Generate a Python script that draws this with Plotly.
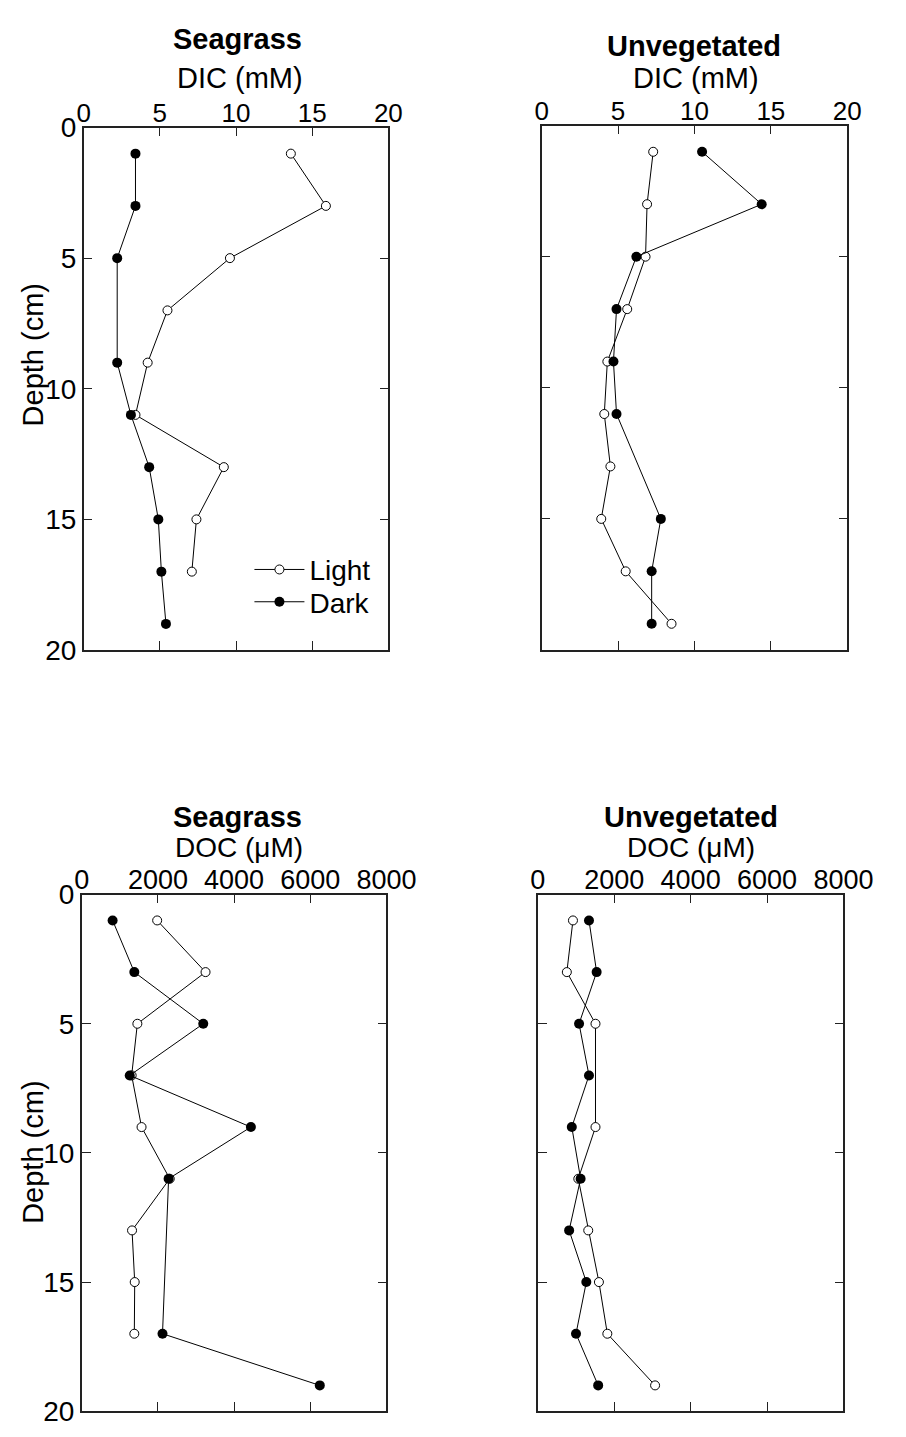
import plotly.graph_objects as go

# Porewater profiles: depth (cm) below sediment surface
depth_sg_dic_light = [1, 3, 5, 7, 9, 11, 13, 15, 17]
dic_sg_light = [13.6, 15.9, 9.6, 5.5, 4.2, 3.4, 9.2, 7.4, 7.1]
depth_sg_dic_dark = [1, 3, 5, 9, 11, 13, 15, 17, 19]
dic_sg_dark = [3.4, 3.4, 2.2, 2.2, 3.1, 4.3, 4.9, 5.1, 5.4]

depth_uv_dic_light = [1, 3, 5, 7, 9, 11, 13, 15, 17, 19]
dic_uv_light = [7.3, 6.9, 6.8, 5.6, 4.3, 4.1, 4.5, 3.9, 5.5, 8.5]
depth_uv_dic_dark = [1, 3, 5, 7, 9, 11, 15, 17, 19]
dic_uv_dark = [10.5, 14.4, 6.2, 4.9, 4.7, 4.9, 7.8, 7.2, 7.2]

depth_sg_doc_light = [1, 3, 5, 7, 9, 11, 13, 15, 17]
doc_sg_light = [1980, 3250, 1460, 1310, 1570, 2310, 1320, 1390, 1380]
depth_sg_doc_dark = [1, 3, 5, 7, 9, 11, 17, 19]
doc_sg_dark = [810, 1380, 3190, 1260, 4440, 2280, 2120, 6250]

depth_uv_doc_light = [1, 3, 5, 9, 11, 13, 15, 17, 19]
doc_uv_light = [920, 760, 1510, 1510, 1060, 1320, 1600, 1820, 3070]
depth_uv_doc_dark = [1, 3, 5, 7, 9, 11, 13, 15, 17, 19]
doc_uv_dark = [1340, 1540, 1080, 1340, 890, 1120, 820, 1270, 1000, 1580]

dic_ticks = [0, 5, 10, 15, 20]
doc_ticks = [0, 2000, 4000, 6000, 8000]
depth_ticks = [0, 5, 10, 15, 20]

W, H = 906, 1437
FONT = "Liberation Sans, Arial, sans-serif"


def fx(p):
    return p / W


def fy(p):
    return 1 - p / H


fig = go.Figure()

panels = [
    # (axis suffix, light depth, light values, dark depth, dark values)
    ("", depth_sg_dic_light, dic_sg_light, depth_sg_dic_dark, dic_sg_dark),
    ("2", depth_uv_dic_light, dic_uv_light, depth_uv_dic_dark, dic_uv_dark),
    ("3", depth_sg_doc_light, doc_sg_light, depth_sg_doc_dark, doc_sg_dark),
    ("4", depth_uv_doc_light, doc_uv_light, depth_uv_doc_dark, doc_uv_dark),
]

for i, (s, dl, vl, dd, vd) in enumerate(panels):
    show = i == 0
    fig.add_trace(go.Scatter(
        x=vl, y=dl, mode="lines+markers", name="Light",
        xaxis="x" + s, yaxis="y" + s, showlegend=show, legend="legend",
        line=dict(color="black", width=1),
        marker=dict(symbol="circle", size=9, color="white",
                    line=dict(color="black", width=1)),
    ))
    fig.add_trace(go.Scatter(
        x=vd, y=dd, mode="lines+markers", name="Dark",
        xaxis="x" + s, yaxis="y" + s, showlegend=show, legend="legend2",
        line=dict(color="black", width=1),
        marker=dict(symbol="circle", size=10, color="black",
                    line=dict(color="black", width=0)),
    ))

axis_common = dict(
    showline=True, linecolor="#222", linewidth=1.5, mirror="ticks",
    ticks="inside", ticklen=9, tickwidth=1.3, tickcolor="#222",
    showgrid=False, zeroline=False, fixedrange=True,
)

# plot boxes in pixels: (left, right, top, bottom)
boxes = [
    (79, 397, 115, 649),
    (557, 876, 113, 649),
    (77, 395, 899, 1427),
    (553, 872, 899, 1427),
]

layout_axes = {}
for i, (l, r, t, b) in enumerate(boxes):
    s = "" if i == 0 else str(i + 1)
    is_dic = i < 2
    layout_axes["xaxis" + s] = dict(
        axis_common, domain=[fx(l), fx(r)], side="top",
        anchor="y" + s, range=[0, 20] if is_dic else [0, 8000],
        tickvals=dic_ticks if is_dic else doc_ticks,
        ticklabelstandoff=-7,
        tickfont=dict(family=FONT, size=26 if is_dic else 27, color="black"),
    )
    layout_axes["yaxis" + s] = dict(
        axis_common, domain=[fy(b), fy(t)], anchor="x" + s,
        range=[20, 0], tickvals=depth_ticks,
        showticklabels=(i % 2 == 0),
        tickfont=dict(family=FONT, size=28, color="black"),
    )

annotations = []
# (bold heading, x, y, variable label, x, y, size)
titles = [
    ("<b>Seagrass</b>", 240, 25, "DIC (mM)", 242, 64, 29),
    ("<b>Unvegetated</b>", 716, 32, "DIC (mM)", 718, 64, 29),
    ("<b>Seagrass</b>", 240, 820, "DOC (μM)", 241, 851, 28),
    ("<b>Unvegetated</b>", 713, 820, "DOC (μM)", 713, 851, 28),
]
for t1, x1, y1, t2, x2, y2, sz in titles:
    annotations.append(dict(
        text=t1, x=fx(x1), y=fy(y1), xref="paper", yref="paper",
        xanchor="center", yanchor="middle", showarrow=False,
        font=dict(family=FONT, size=29, color="black"),
    ))
    annotations.append(dict(
        text=t2, x=fx(x2), y=fy(y2), xref="paper", yref="paper",
        xanchor="center", yanchor="middle", showarrow=False,
        font=dict(family=FONT, size=sz, color="black"),
    ))

for yc in (347, 1162):
    annotations.append(dict(
        text="Depth (cm)", x=fx(26), y=fy(yc), xref="paper", yref="paper",
        xanchor="center", yanchor="middle", showarrow=False, textangle=-90,
        font=dict(family=FONT, size=29, color="black"),
    ))

legend_style = dict(
    xanchor="left", yanchor="middle",
    bgcolor="rgba(0,0,0,0)", borderwidth=0,
    font=dict(family=FONT, size=28, color="black"),
    itemwidth=50,
)

fig.update_layout(
    width=W, height=H,
    margin=dict(l=0, r=0, t=0, b=0),
    paper_bgcolor="white", plot_bgcolor="white",
    showlegend=True,
    legend=dict(legend_style, x=fx(252), y=fy(567)),
    legend2=dict(legend_style, x=fx(252), y=fy(600)),
    annotations=annotations,
    **layout_axes,
)

fig.write_html("out.html")
